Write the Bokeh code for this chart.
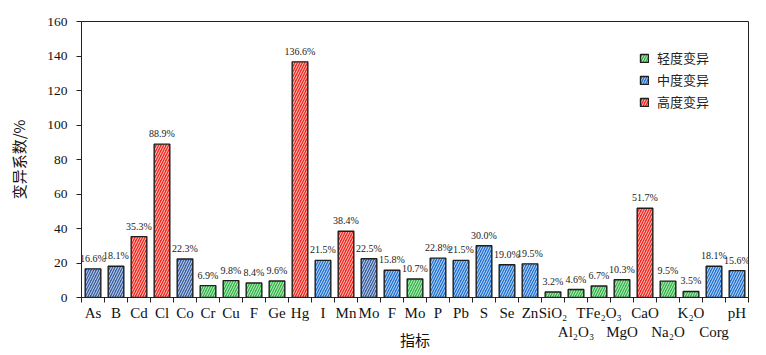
from bokeh.plotting import figure
from bokeh.models import ColumnDataSource, FixedTicker, Legend, LegendItem, Range1d
from bokeh.embed import file_html
from bokeh.resources import INLINE
from bokeh.core.properties import value

# ---- data ----
names = ["As", "B", "Cd", "Cl", "Co", "Cr", "Cu", "F", "Ge", "Hg", "I", "Mn", "Mo", "F", "Mo",
         "P", "Pb", "S", "Se", "Zn", "SiO₂", "Al₂O₃", "TFe₂O₃", "MgO", "CaO", "Na₂O", "K₂O", "Corg", "pH"]
cv = [16.6, 18.1, 35.3, 88.9, 22.3, 6.9, 9.8, 8.4, 9.6, 136.6, 21.5, 38.4, 22.5, 15.8, 10.7,
      22.8, 21.5, 30.0, 19.0, 19.5, 3.2, 4.6, 6.7, 10.3, 51.7, 9.5, 3.5, 18.1, 15.6]
level = ["中", "中", "高", "高", "中", "轻", "轻", "轻", "轻", "高", "中", "高", "中", "中", "轻",
         "中", "中", "中", "中", "中", "轻", "轻", "轻", "轻", "高", "轻", "轻", "中", "中"]
dark_shade = [1, 1, 0, 0, 1, 0, 0, 0, 0, 0, 0, 0, 1, 0, 0,
              0, 0, 0, 0, 0, 0, 0, 0, 0, 0, 0, 0, 0, 0]
label_row = [1, 1, 1, 1, 1, 1, 1, 1, 1, 1, 1, 1, 1, 1, 1,
             1, 1, 1, 1, 1, 1, 2, 1, 2, 1, 2, 1, 2, 1]
levels = ["轻", "中", "高"]
legend_labels = ["轻度变异", "中度变异", "高度变异"]
y_ticks = [0, 20, 40, 60, 80, 100, 120, 140, 160]

# ---- styles ----
level_color = {"轻": "#30b545", "中": "#1f72d2", "高": "#f0271d"}
dark_blue = "#355ea3"
fill = [dark_blue if d else level_color[l] for l, d in zip(level, dark_shade)]
xs = list(range(1, len(names) + 1))
SERIF = "Liberation Serif"
CJK = "Noto Sans CJK SC"

p = figure(width=758, height=352, output_backend="svg", toolbar_location=None,
           x_range=Range1d(0.5, len(names) + 0.5), y_range=Range1d(0, 160),
           min_border_left=81, min_border_right=10, min_border_top=21, min_border_bottom=54)
p.xgrid.visible = False
p.ygrid.visible = False
p.outline_line_color = "#222222"
p.outline_line_width = 1
p.background_fill_color = "white"
p.border_fill_color = "white"

renderers = {}
for lv in levels:
    idx = [i for i, l in enumerate(level) if l == lv]
    src = ColumnDataSource(dict(x=[xs[i] for i in idx], top=[cv[i] for i in idx],
                                color=[fill[i] for i in idx], dark=[dark_shade[i] for i in idx]))
    r = p.vbar(x="x", top="top", bottom=0, width=0.68, source=src,
               fill_color="color", line_color="#1e1e1e", line_width=1.4,
               hatch_pattern="/", hatch_color="white", hatch_scale=5,
               hatch_weight=0.9, hatch_alpha=0.85)
    renderers[lv] = (r, src)

lab_src = ColumnDataSource(dict(x=xs, y=cv, t=[f"{v:.1f}%" for v in cv]))
p.text(x="x", y="y", text="t", source=lab_src, text_align="center", text_baseline="bottom",
       y_offset=-5, text_font=value(SERIF), text_font_size="10px", text_color="#222222")

items = []
for lv, lab in zip(levels, legend_labels):
    r, src = renderers[lv]
    k = src.data["dark"].index(0)
    items.append(LegendItem(label=lab, renderers=[r], index=k))
legend = Legend(items=items, location=(558, 186), orientation="vertical",
                border_line_color=None, background_fill_alpha=0, padding=0, spacing=3,
                glyph_width=10, glyph_height=10, label_height=14, label_standoff=8,
                label_text_font=CJK, label_text_font_size="13px", label_text_color="#222222",
                margin=0)
p.add_layout(legend)

# x axis
xa = p.xaxis[0]
xa.ticker = FixedTicker(ticks=xs, minor_ticks=[i + 0.5 for i in range(0, len(names) + 1)])
xa.major_label_overrides = {x: (n if r == 1 else "\n" + n) for x, n, r in zip(xs, names, label_row)}
xa.major_tick_line_color = None
xa.major_tick_out = 5
xa.major_tick_in = 0
xa.minor_tick_out = 5
xa.minor_tick_in = 0
xa.minor_tick_line_color = "#222222"
xa.axis_line_color = "#222222"
xa.major_label_standoff = 2
xa.major_label_text_font = SERIF
xa.major_label_text_font_size = "15px"
xa.major_label_text_color = "#111111"
xa.axis_label = "指标"
xa.axis_label_text_font = CJK
xa.axis_label_text_font_size = "15px"
xa.axis_label_text_font_style = "normal"
xa.axis_label_text_color = "#111111"
xa.axis_label_standoff = -14

# y axis
ya = p.yaxis[0]
ya.ticker = FixedTicker(ticks=y_ticks)
ya.major_tick_out = 5
ya.major_tick_in = 0
ya.minor_tick_line_color = None
ya.axis_line_color = "#222222"
ya.major_tick_line_color = "#222222"
ya.major_label_standoff = 9
ya.major_label_text_font = SERIF
ya.major_label_text_font_size = "13.5px"
ya.major_label_text_color = "#111111"
ya.axis_label = "变异系数/%"
ya.axis_label_text_font = CJK
ya.axis_label_text_font_size = "15px"
ya.axis_label_text_font_style = "normal"
ya.axis_label_text_color = "#111111"
ya.axis_label_standoff = 15

open("out.html", "w").write(file_html(p, INLINE))
